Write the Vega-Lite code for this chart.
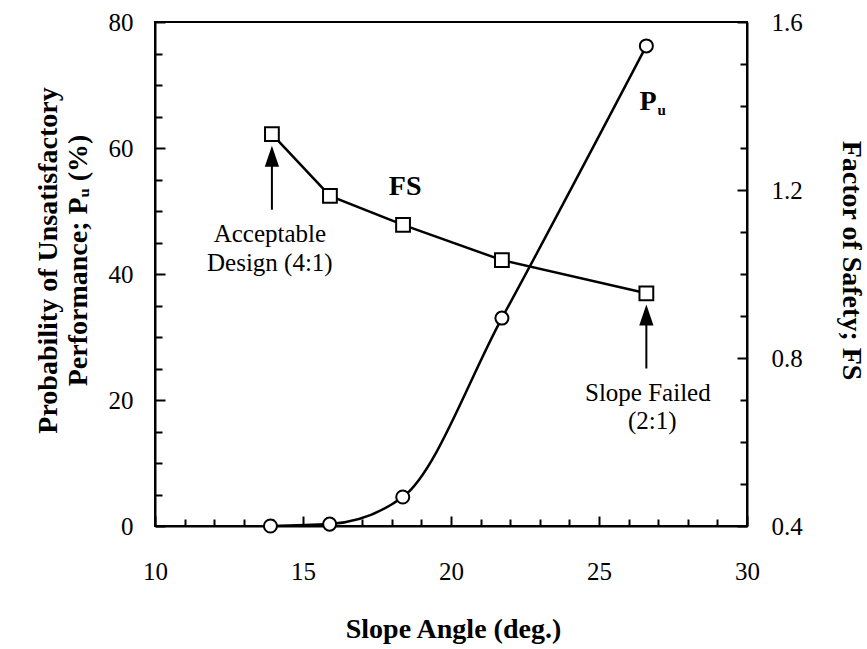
{
  "$schema": "https://vega.github.io/schema/vega-lite/v6.json",
  "width": 592,
  "height": 504,
  "autosize": {"type": "none"},
  "padding": {"left": 155, "top": 22, "right": 120, "bottom": 123},
  "background": "white",
  "config": {
    "view": {"stroke": "black", "strokeWidth": 2},
    "font": "Liberation Serif",
    "axis": {
      "domainColor": "black", "domainWidth": 2,
      "tickColor": "black", "tickWidth": 2, "grid": false,
      "labelFont": "Liberation Serif", "labelFontSize": 25, "labelColor": "black",
      "labelOverlap": false, "labelBound": false, "labelFlush": false,
      "titleFont": "Liberation Serif", "titleFontSize": 28, "titleFontWeight": "bold", "titleColor": "black"
    }
  },
  "datasets": {
    "pu": [
      {"x": 13.9, "v": 0},
      {"x": 15.9, "v": 0.3},
      {"x": 18.37, "v": 4.6},
      {"x": 21.72, "v": 33},
      {"x": 26.6, "v": 76.2}
    ],
    "fs": [
      {"x": 13.95, "fs": 1.333},
      {"x": 15.91, "fs": 1.186},
      {"x": 18.38, "fs": 1.117},
      {"x": 21.72, "fs": 1.033},
      {"x": 26.6, "fs": 0.954}
    ],
    "notes": [
      {"x": 13.88, "v": 46.3, "label": "Acceptable"},
      {"x": 13.88, "v": 41.8, "label": "Design (4:1)"},
      {"x": 26.65, "v": 21.1, "label": "Slope Failed"},
      {"x": 26.8, "v": 16.6, "label": "(2:1)"}
    ],
    "bold": [
      {"x": 18.45, "v": 53.8, "label": "FS"},
      {"x": 26.66, "v": 67.3, "label": "P"}
    ],
    "sub": [
      {"x": 27.12, "v": 66.0, "label": "u"}
    ],
    "arrows": [
      {"x": 13.95, "v": 58.0, "v2": 50.2},
      {"x": 26.6, "v": 33.0, "v2": 25.0}
    ],
    "heads": [
      {"x": 13.95, "v": 58.7},
      {"x": 26.6, "v": 33.5}
    ]
  },
  "encoding": {
    "x": {
      "field": "x", "type": "quantitative",
      "scale": {"domain": [10, 30], "nice": false, "zero": false},
      "axis": {
        "title": "Slope Angle (deg.)",
        "values": [10,11,12,13,14,15,16,17,18,19,20,21,22,23,24,25,26,27,28,29,30],
        "labelExpr": "datum.value % 5 === 0 ? datum.label : ''",
        "labelOverlap": false, "labelFlush": false, "labelBound": false,
        "tickSize": {"condition": {"test": "datum.value % 5 === 0", "value": -10}, "value": -7},
        "labelPadding": 43,
        "titleX": 298, "titleY": 103, "titleBaseline": "middle"
      }
    }
  },
  "layer": [
    {
      "encoding": {
        "y": {
          "field": "v", "type": "quantitative",
          "scale": {"domain": [0, 80], "nice": false},
          "axis": {
            "title": ["Probability of Unsatisfactory", "Performance; Pᵤ  (%)"],
            "values": [0,5,10,15,20,25,30,35,40,45,50,55,60,65,70,75,80],
            "labelExpr": "datum.value % 20 === 0 ? datum.label : ''",
            "labelOverlap": false,
            "tickSize": {"condition": {"test": "datum.value % 20 === 0", "value": -10}, "value": -7},
            "labelPadding": 32,
            "titleAngle": -90, "titleX": -107, "titleY": 238,
            "titleBaseline": "middle", "titleAlign": "center", "titleLineHeight": 30
          }
        }
      },
      "layer": [
        {
          "data": {"name": "pu"},
          "mark": {"type": "line", "interpolate": "monotone", "color": "black", "strokeWidth": 2.5}
        },
        {
          "data": {"name": "pu"},
          "mark": {"type": "point", "shape": "circle", "filled": true, "fill": "white", "stroke": "black", "strokeWidth": 2, "size": 170, "opacity": 1}
        },
        {
          "data": {"name": "arrows"},
          "mark": {"type": "rule", "color": "black", "strokeWidth": 2},
          "encoding": {
            "y2": {"field": "v2"}
          }
        },
        {
          "data": {"name": "heads"},
          "mark": {"type": "point", "shape": "M0,-1L0.68,1L-0.68,1Z", "filled": true, "color": "black", "size": 441, "opacity": 1, "strokeWidth": 0}
        },
        {
          "data": {"name": "notes"},
          "mark": {"type": "text", "font": "Liberation Serif", "fontSize": 25, "color": "black", "align": "center", "baseline": "middle"},
          "encoding": {
            "text": {"field": "label"}
          }
        },
        {
          "data": {"name": "bold"},
          "mark": {"type": "text", "font": "Liberation Serif", "fontSize": 28, "fontWeight": "bold", "color": "black", "align": "center", "baseline": "middle"},
          "encoding": {
            "text": {"field": "label"}
          }
        },
        {
          "data": {"name": "sub"},
          "mark": {"type": "text", "font": "Liberation Serif", "fontSize": 15, "fontWeight": "bold", "color": "black", "align": "center", "baseline": "middle"},
          "encoding": {
            "text": {"field": "label"}
          }
        }
      ]
    },
    {
      "data": {"name": "fs"},
      "encoding": {
        "y": {
          "field": "fs", "type": "quantitative",
          "scale": {"domain": [0.4, 1.6], "nice": false, "zero": false},
          "axis": {
            "orient": "right",
            "title": "Factor of Safety; FS",
            "values": [0.4,0.5,0.6,0.7,0.8,0.9,1.0,1.1,1.2,1.3,1.4,1.5,1.6],
            "labelExpr": "abs(round(datum.value*10)) % 4 === 0 ? format(datum.value, '.1f') : ''",
            "labelOverlap": false,
            "tickSize": {"condition": {"test": "abs(round(datum.value*10)) % 4 === 0", "value": -10}, "value": -7},
            "labelPadding": 34,
            "titleAngle": 90, "titleX": 103, "titleY": 238,
            "titleBaseline": "middle", "titleAlign": "center"
          }
        }
      },
      "layer": [
        {
          "mark": {"type": "line", "color": "black", "strokeWidth": 2.5}
        },
        {
          "mark": {"type": "point", "shape": "square", "filled": true, "fill": "white", "stroke": "black", "strokeWidth": 2, "size": 190, "opacity": 1}
        }
      ]
    }
  ],
  "resolve": {"scale": {"y": "independent"}}
}
